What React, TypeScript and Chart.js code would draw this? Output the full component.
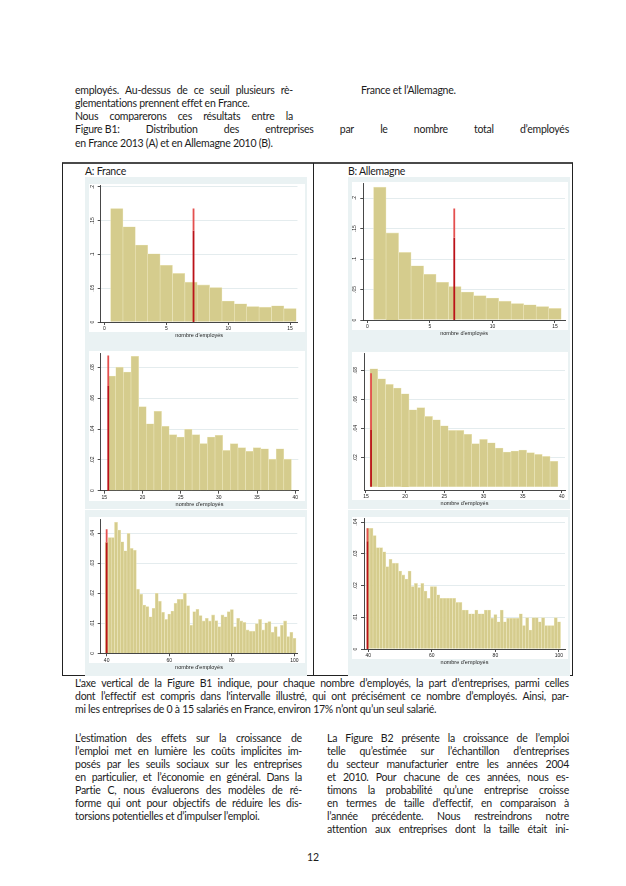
import React, { useEffect, useRef } from 'react';
import { Chart, registerables } from 'chart.js';

Chart.register(...registerables);

// ---------------- DATA ----------------
// Panel A (France 2013) / B (Allemagne 2010): share of firms by number of employees
const empSmall = [1, 2, 3, 4, 5, 6, 7, 8, 9, 10, 11, 12, 13, 14, 15];
const frShareSmall = [0.168, 0.141, 0.114, 0.101, 0.084, 0.072, 0.059, 0.055, 0.051, 0.031, 0.027, 0.023, 0.022, 0.024, 0.020];
const deShareSmall = [0.218, 0.143, 0.111, 0.089, 0.075, 0.062, 0.055, 0.046, 0.040, 0.036, 0.031, 0.027, 0.025, 0.022, 0.019];

const empMid = [16, 17, 18, 19, 20, 21, 22, 23, 24, 25, 26, 27, 28, 29, 30, 31, 32, 33, 34, 35, 36, 37, 38, 39];
const frShareMid = [0.0745, 0.0803, 0.0771, 0.0874, 0.0546, 0.0435, 0.0516, 0.0419, 0.0364, 0.0349, 0.0399, 0.0364, 0.0307, 0.0349, 0.0360, 0.0262, 0.0306, 0.0280, 0.0256, 0.0280, 0.0272, 0.0205, 0.0272, 0.0205];
const deShareMid = [0.0811, 0.0742, 0.0703, 0.0678, 0.0639, 0.0529, 0.0543, 0.0483, 0.0460, 0.0419, 0.0387, 0.0387, 0.0360, 0.0296, 0.0325, 0.0302, 0.0266, 0.0238, 0.0245, 0.0252, 0.0234, 0.0222, 0.0208, 0.0174];

const empLarge = [40, 41, 42, 43, 44, 45, 46, 47, 48, 49, 50, 51, 52, 53, 54, 55, 56, 57, 58, 59, 60, 61, 62, 63, 64, 65, 66, 67, 68, 69, 70, 71, 72, 73, 74, 75, 76, 77, 78, 79, 80, 81, 82, 83, 84, 85, 86, 87, 88, 89, 90, 91, 92, 93, 94, 95, 96, 97, 98, 99, 100];
const frShareLarge = [
  0.0370,
  0.0386, 0.0386, 0.0437, 0.0411, 0.0372, 0.0342, 0.0400, 0.0350, 0.0344, 0.0214,
  0.0197, 0.0161, 0.0156, 0.0122, 0.0150, 0.0200, 0.0174, 0.0137, 0.0113, 0.0131,
  0.0141, 0.0167, 0.0180, 0.0180, 0.0200, 0.0159, 0.0094, 0.0139, 0.0147, 0.0126,
  0.0108, 0.0117, 0.0108, 0.0128, 0.0109, 0.0089, 0.0128, 0.0122, 0.0139, 0.0146,
  0.0089, 0.0117, 0.0108, 0.0103, 0.0078, 0.0074, 0.0074, 0.0099, 0.0113, 0.0078,
  0.0102, 0.0106, 0.0070, 0.0089, 0.0056, 0.0094, 0.0108, 0.0056, 0.0070, 0.0050,
];
const deShareLarge = [
  0.0381, 0.0381, 0.0358, 0.0320, 0.0320, 0.0307, 0.0260, 0.0283, 0.0271, 0.0271,
  0.0246, 0.0234, 0.0221, 0.0246, 0.0197, 0.0207, 0.0194, 0.0207, 0.0183, 0.0160,
  0.0197, 0.0197, 0.0171, 0.0160, 0.0160, 0.0160, 0.0160, 0.0160, 0.0147, 0.0147,
  0.0123, 0.0123, 0.0111, 0.0111, 0.0123, 0.0111, 0.0111, 0.0123, 0.0123, 0.0097,
  0.0109, 0.0086, 0.0123, 0.0086, 0.0097, 0.0097, 0.0097, 0.0097, 0.0111, 0.0074,
  0.0099, 0.0060, 0.0099, 0.0099, 0.0086, 0.0099, 0.0074, 0.0074, 0.0074, 0.0099, 0.0086,
];

// Tick labels
const xTicksSmall = [0, 5, 10, 15];
const xTicksMid = [15, 20, 25, 30, 35, 40];
const xTicksLarge = [40, 60, 80, 100];
const yTicksSmall = [0, 0.05, 0.1, 0.15, 0.2];
const yTicksFrMid = [0, 0.02, 0.04, 0.06, 0.08];
const yTicksDeMid = [0.02, 0.04, 0.06, 0.08];
const yTicksLarge = [0, 0.01, 0.02, 0.03, 0.04];

// Red threshold lines: [x position, start of lighter part, top]
const redFrSmall = [7.2, 0.135, 0.168];
const redDeSmall = [6.95, 0.135, 0.183];
const redFrMid = [15.52, 0.068, 0.0878];
const redDeMid = [15.65, 0.039, 0.078];
const redFrLarge = [40, 0.037, 0.0414];
const redDeLarge = [39.75, 0.034, 0.0381];

const xTitle = "nombre d'employés";

// ---------------- STYLE / LAYOUT ----------------
const TXT_FONT = "Lato, 'Liberation Sans', sans-serif";
const AX_FONT = "'Liberation Sans', Arial, sans-serif";
const BAR_FILL = '#d5cc8d';
const BAR_EDGE = '#ece6bc';
const BLUE = '#eaf2f3';

type Spec = {
  left: number; top: number; width: number; height: number;
  L: number; R: number; T: number; B: number;
  xMin: number; xMax: number; yMin: number; yMax: number;
  cats: number[]; vals: number[]; xTicks: number[]; yTicks: number[]; red: number[];
};

const W = 222;
const H = 166;
const panels: Spec[] = [
  { left: 85, top: 177, width: W, height: H, L: 15.7, R: 212.5, T: 8.6, B: 145, xMin: -0.3, xMax: 15.6, yMin: 0, yMax: 0.202, cats: empSmall, vals: frShareSmall, xTicks: xTicksSmall, yTicks: yTicksSmall, red: redFrSmall },
  { left: 348, top: 177, width: W, height: H, L: 15.3, R: 217, T: 6.5, B: 143, xMin: -0.32, xMax: 15.8, yMin: 0, yMax: 0.224, cats: empSmall, vals: deShareSmall, xTicks: xTicksSmall, yTicks: yTicksSmall, red: redDeSmall },
  { left: 85, top: 343, width: W, height: H, L: 15.7, R: 213.3, T: 10.3, B: 147.7, xMin: 14.53, xMax: 40.4, yMin: 0, yMax: 0.0893, cats: empMid, vals: frShareMid, xTicks: xTicksMid, yTicks: yTicksFrMid, red: redFrMid },
  { left: 348, top: 343, width: W, height: H, L: 16, R: 217, T: 10.6, B: 147, xMin: 14.75, xMax: 40.4, yMin: -0.0023, yMax: 0.0915, cats: empMid, vals: deShareMid, xTicks: xTicksMid, yTicks: yTicksDeMid, red: redDeMid },
  { left: 85, top: 510, width: W, height: H, L: 15.7, R: 212.3, T: 9, B: 143.3, xMin: 38.1, xMax: 100.9, yMin: 0, yMax: 0.0448, cats: empLarge, vals: frShareLarge, xTicks: xTicksLarge, yTicks: yTicksLarge, red: redFrLarge },
  { left: 348, top: 510, width: W, height: H, L: 16, R: 217, T: 8.8, B: 139, xMin: 38.65, xMax: 101.9, yMin: 0, yMax: 0.0411, cats: empLarge, vals: deShareLarge, xTicks: xTicksLarge, yTicks: yTicksLarge, red: redDeLarge },
];

const fmtY = (v: number) => {
  if (Math.abs(v) < 1e-9) return '0';
  return parseFloat(v.toFixed(4)).toString().replace(/^0\./, '.');
};

function Hist({ spec }: { spec: Spec }) {
  const ref = useRef<HTMLCanvasElement>(null);
  useEffect(() => {
    const canvas = ref.current;
    if (!canvas) return;
    const XH = 17;
    const [rx, rmid, rtop] = spec.red;
    const chart = new Chart(canvas, {
      type: 'bar',
      data: {
        datasets: [
          {
            type: 'line',
            data: [{ x: rx, y: rmid }, { x: rx, y: rtop }],
            borderColor: '#e4504f',
            borderWidth: 1.8,
            pointRadius: 0,
            order: 0,
          } as any,
          {
            type: 'line',
            data: [{ x: rx, y: 0 }, { x: rx, y: rmid }],
            borderColor: '#bb1219',
            borderWidth: 1.8,
            pointRadius: 0,
            order: 0,
          } as any,
          {
            type: 'bar',
            data: spec.cats.map((c, i) => ({ x: c, y: spec.vals[i] })),
            backgroundColor: BAR_FILL,
            borderColor: BAR_EDGE,
            borderWidth: 0.6,
            barPercentage: 1,
            categoryPercentage: 1,
            order: 1,
          } as any,
        ],
      },
      options: {
        responsive: false,
        animation: false,
        devicePixelRatio: 1,
        layout: { padding: { left: 0, top: spec.T, right: spec.width - spec.R, bottom: spec.height - spec.B - XH } },
        plugins: { legend: { display: false }, tooltip: { enabled: false }, title: { display: false } },
        scales: {
          x: {
            type: 'linear',
            bounds: 'data',
            min: spec.xMin,
            max: spec.xMax,
            offset: false,
            afterBuildTicks: (s: any) => { s.ticks = spec.xTicks.map((v) => ({ value: v })); },
            afterFit: (s: any) => { s.height = XH; },
            grid: { offset: false, drawOnChartArea: false, drawTicks: true, tickLength: 3, tickColor: '#222', tickWidth: 0.8 },
            border: { display: true, color: '#333', width: 0.9 },
            ticks: { autoSkip: false, minRotation: 0, maxRotation: 0, padding: 1, color: '#222', font: { family: AX_FONT, size: 5 }, callback: (v: any) => String(v) },
            title: { display: true, text: xTitle, color: '#222', font: { family: AX_FONT, size: 5.5 }, padding: { top: 0, bottom: 0 } },
          } as any,
          y: {
            type: 'linear',
            bounds: 'data',
            min: spec.yMin,
            max: spec.yMax,
            beginAtZero: false,
            afterBuildTicks: (s: any) => { s.ticks = spec.yTicks.map((v) => ({ value: v })); },
            afterFit: (s: any) => { s.width = spec.L; },
            grid: { drawOnChartArea: true, color: '#dde7ea', lineWidth: 0.8, drawTicks: true, tickLength: 3, tickColor: '#222', tickWidth: 0.8 },
            border: { display: true, color: '#333', width: 0.9 },
            ticks: { autoSkip: false, minRotation: 90, maxRotation: 90, crossAlign: 'center', padding: 2, color: '#222', font: { family: AX_FONT, size: 5 }, callback: (v: any) => fmtY(Number(v)) },
          } as any,
        },
      },
    });
    return () => chart.destroy();
  }, [spec]);

  return (
    <>
      <div style={{ position: 'absolute', left: spec.left, top: spec.top, width: spec.width, height: spec.height, background: BLUE }} />
      <div style={{ position: 'absolute', left: spec.left + 4, top: spec.top + spec.T - 2, width: spec.width - 6, height: spec.B + 10 - (spec.T - 2), background: '#ffffff' }} />
      <canvas ref={ref} width={spec.width} height={spec.height} style={{ position: 'absolute', left: spec.left, top: spec.top, width: spec.width, height: spec.height }} />
    </>
  );
}

// ---------------- TEXT ----------------
type Ln = { x: number; y: number; w: number; j: boolean; t: string };
const NB = '\u00A0';
const textLines: Ln[] = [
  { x: 75, y: 90, w: 218, j: true, t: 'employés. Au-dessus de ce seuil plusieurs rè-' },
  { x: 361, y: 90, w: 0, j: false, t: 'France et l’Allemagne.' },
  { x: 75, y: 103, w: 0, j: false, t: 'glementations prennent effet en France.' },
  { x: 75, y: 116, w: 218, j: true, t: 'Nous comparerons ces résultats entre la' },
  { x: 75, y: 129, w: 494, j: true, t: `Figure${NB}B1: Distribution des entreprises par le nombre total d’employés` },
  { x: 75, y: 143, w: 0, j: false, t: 'en France 2013 (A) et en Allemagne 2010 (B).' },

  { x: 75, y: 683, w: 494, j: true, t: "L'axe vertical de la Figure B1 indique, pour chaque nombre d’employés, la part d’entreprises, parmi celles" },
  { x: 75, y: 696, w: 494, j: true, t: "dont l’effectif est compris dans l'intervalle illustré, qui ont précisément ce nombre d’employés. Ainsi, par-" },
  { x: 75, y: 709, w: 0, j: false, t: 'mi les entreprises de 0 à 15 salariés en France, environ 17% n’ont qu’un seul salarié.' },

  { x: 75, y: 738, w: 227, j: true, t: 'L’estimation des effets sur la croissance de' },
  { x: 75, y: 751, w: 227, j: true, t: 'l’emploi met en lumière les coûts implicites im-' },
  { x: 75, y: 764, w: 227, j: true, t: 'posés par les seuils sociaux sur les entreprises' },
  { x: 75, y: 777, w: 227, j: true, t: 'en particulier, et l’économie en général. Dans la' },
  { x: 75, y: 790, w: 227, j: true, t: 'Partie C, nous évaluerons des modèles de ré-' },
  { x: 75, y: 803, w: 227, j: true, t: 'forme qui ont pour objectifs de réduire les dis-' },
  { x: 75, y: 816, w: 0, j: false, t: 'torsions potentielles et d’impulser l’emploi.' },

  { x: 327, y: 738, w: 242, j: true, t: 'La Figure B2 présente la croissance de l’emploi' },
  { x: 327, y: 751, w: 242, j: true, t: 'telle qu’estimée sur l’échantillon d’entreprises' },
  { x: 327, y: 764, w: 242, j: true, t: 'du secteur manufacturier entre les années 2004' },
  { x: 327, y: 777, w: 242, j: true, t: 'et 2010. Pour chacune de ces années, nous es-' },
  { x: 327, y: 790, w: 242, j: true, t: 'timons la probabilité qu’une entreprise croisse' },
  { x: 327, y: 803, w: 242, j: true, t: 'en termes de taille d’effectif, en comparaison à' },
  { x: 327, y: 816, w: 242, j: true, t: 'l’année précédente. Nous restreindrons notre' },
  { x: 327, y: 829, w: 242, j: true, t: 'attention aux entreprises dont la taille était ini-' },
];

const TXT_SIZE = 10.5;
const TXT_LS = -0.25;

function TextLine({ ln }: { ln: Ln }) {
  const base: React.CSSProperties = {
    position: 'absolute', left: ln.x, top: ln.y - 7, height: 14, lineHeight: '14px',
    fontFamily: TXT_FONT, fontSize: TXT_SIZE, letterSpacing: TXT_LS, color: '#1c1c1c', whiteSpace: 'pre',
  };
  if (ln.j) {
    return (
      <div style={{ ...base, width: ln.w, display: 'flex', justifyContent: 'space-between' }}>
        {ln.t.split(' ').map((w, i) => <span key={i}>{w}</span>)}
      </div>
    );
  }
  return <div style={base}>{ln.t}</div>;
}

export default function App() {
  return (
    <div style={{ position: 'absolute', left: 0, top: 0, width: 626, height: 886, background: '#fff', overflow: 'hidden' }}>
      {textLines.map((ln, i) => <TextLine key={i} ln={ln} />)}

      {/* figure frame */}
      <div style={{ position: 'absolute', left: 62, top: 162, width: 511, height: 2, background: '#4a4a4a' }} />
      <div style={{ position: 'absolute', left: 62, top: 163, width: 1, height: 513, background: '#222' }} />
      <div style={{ position: 'absolute', left: 313, top: 163, width: 1, height: 513, background: '#222' }} />
      <div style={{ position: 'absolute', left: 572, top: 163, width: 1, height: 513, background: '#222' }} />
      <div style={{ position: 'absolute', left: 62, top: 675, width: 511, height: 1, background: '#222' }} />

      <div style={{ position: 'absolute', left: 85, top: 164, lineHeight: '14px', fontFamily: TXT_FONT, fontSize: TXT_SIZE, letterSpacing: TXT_LS, color: '#1c1c1c', whiteSpace: 'pre' }}>A: France</div>
      <div style={{ position: 'absolute', left: 348, top: 164, lineHeight: '14px', fontFamily: TXT_FONT, fontSize: TXT_SIZE, letterSpacing: TXT_LS, color: '#1c1c1c', whiteSpace: 'pre' }}>B: Allemagne</div>

      {panels.map((p, i) => <Hist key={i} spec={p} />)}

      <div style={{ position: 'absolute', left: 263, width: 100, top: 850, lineHeight: '14px', textAlign: 'center', fontFamily: TXT_FONT, fontSize: TXT_SIZE, color: '#1c1c1c' }}>12</div>
    </div>
  );
}
